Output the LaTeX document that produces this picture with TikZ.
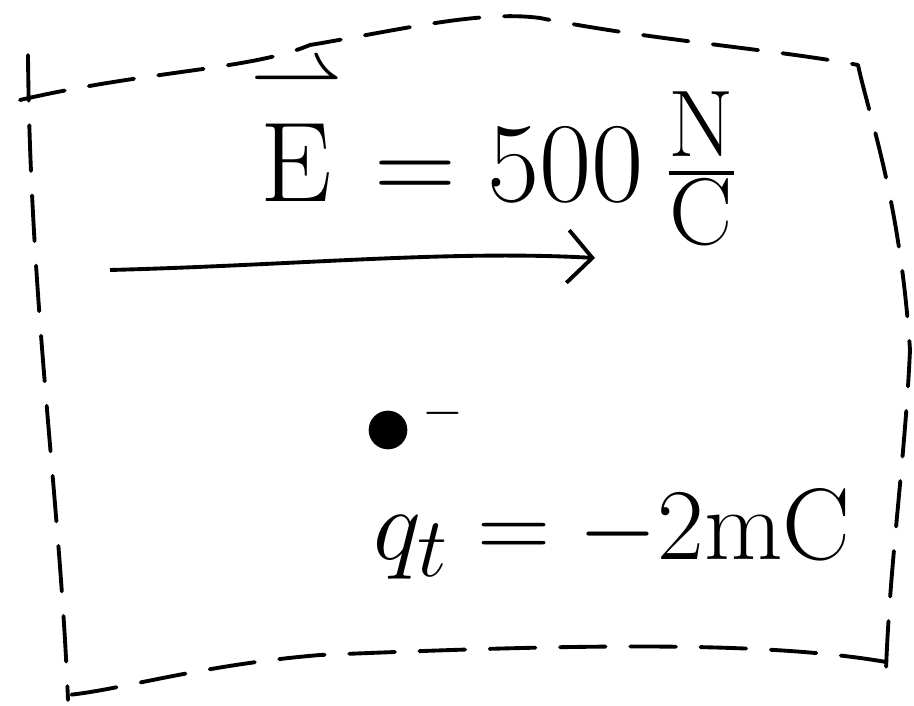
\documentclass[tikz,border=0pt]{standalone}
\usepackage{tikz}
\usepackage{amsmath}
\usetikzlibrary{arrows.meta, positioning, calc}

\begin{document}
\begin{tikzpicture}[
    x=0.02cm, y=-0.02cm,
    border/.style={dash pattern=on 26pt off 14pt, line width=2.2pt, line cap=round, line join=round},
    field/.style={-{Straight Barb[length=14pt, width=30pt, line width=2.2pt]}, line width=2.2pt},
    label/.style={inner sep=0pt, font=\Huge, scale=2.5},
    charge/.style={circle, fill=black, inner sep=0pt, minimum size=22pt}
]
\useasboundingbox (0,0) rectangle (914,706);

% wavy dashed region
\draw[border] (28,55) .. controls (30,300) and (60,500) .. (68,700);
\draw[border] (20,100) .. controls (150,70) and (250,70) .. (310,45)
    .. controls (400,30) and (480,10) .. (540,18)
    .. controls (650,40) and (780,50) .. (858,65);
\draw[border] (858,65) .. controls (870,120) and (900,200) .. (910,350)
    .. controls (905,460) and (890,560) .. (886,670);
\draw[border] (886,662) .. controls (760,640) and (560,645) .. (320,655)
    .. controls (200,665) and (120,690) .. (68,695);

% field label and direction
\node[label, scale=1.04] (efield) at (495,150) {$\overset{\rightharpoonup}{\mathrm{E}}=500\,\frac{\mathrm{N}}{\mathrm{C}}$};
\coordinate (start) at (110,270);
\coordinate (stop) at (595,258);
\draw[field] (start) .. controls (300,265) and (450,250) .. (stop);

% test charge
\node[charge] (dot) at (388,430) {};
\node[inner sep=0pt, font=\Huge, scale=1.2, right=8pt of dot, yshift=8pt] (sign) {$-$};
\node[label, scale=0.93] (qt) at (612,535) {$q_t=-2\mathrm{mC}$};
\end{tikzpicture}
\end{document}
